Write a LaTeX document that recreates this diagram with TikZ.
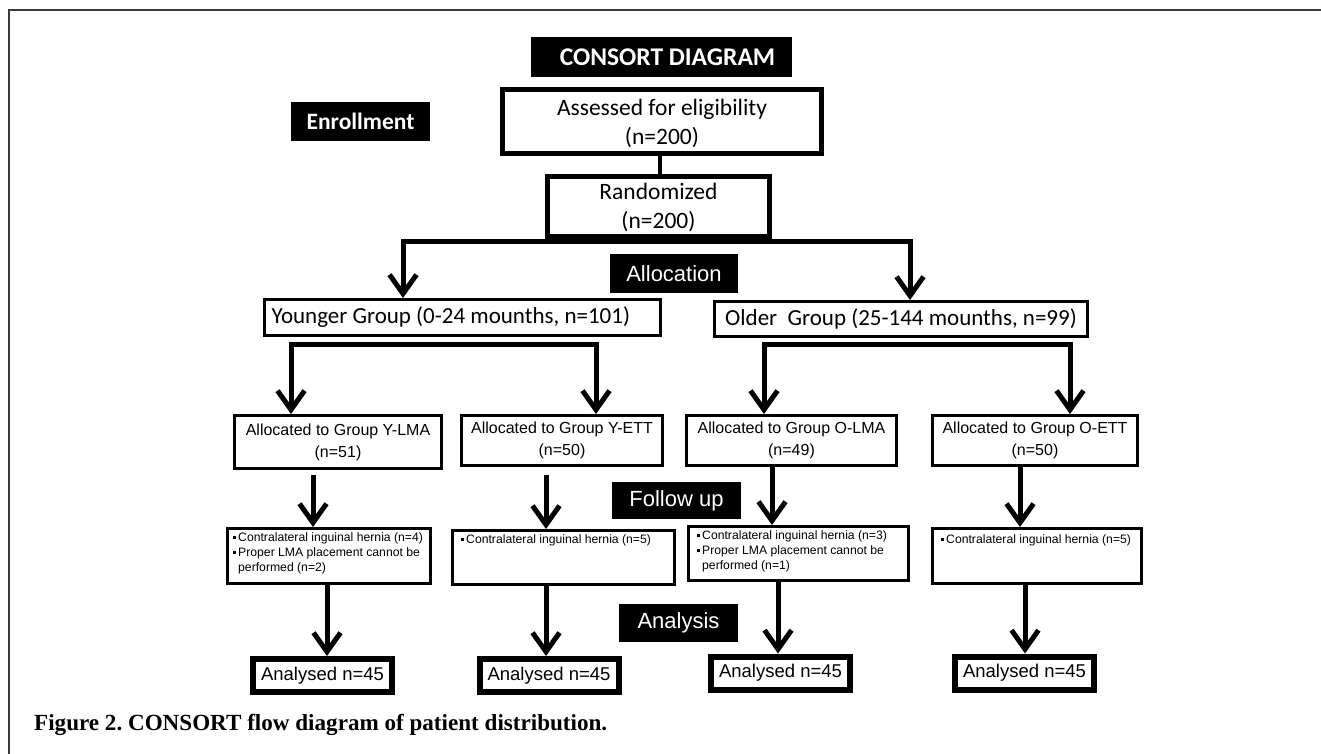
\documentclass[tikz,border=0pt]{standalone}
\usepackage{fontspec}
\setmainfont{Liberation Sans}
\newfontfamily\cali{Carlito}
\newfontfamily\arial{Liberation Sans}
\newfontfamily\capserif{Liberation Serif}
\usetikzlibrary{arrows.meta}
\definecolor{framegray}{HTML}{3A3A3A}
\newcommand{\fsz}[2]{\fontsize{#1}{#2}\selectfont}
\newcommand{\bul}{\makebox[5.5pt][l]{\rule[2.5pt]{3pt}{3pt}}}
\frenchspacing
\begin{document}
\begin{tikzpicture}[x=1pt,y=-1pt,
  blk/.style={fill=black,text=white,inner sep=0pt},
  bigbox/.style={draw,line width=5pt,fill=white,inner sep=0pt},
  bigtxt/.style={align=center,inner sep=0pt,font=\cali\fsz{23.5pt}{28.5pt}},
  gbox/.style={draw,line width=3pt,fill=white,inner sep=0pt,font=\cali\fsz{23pt}{28pt}},
  abox/.style={draw,line width=3pt,fill=white,align=center,inner sep=0pt,font=\arial\fsz{16pt}{22pt}},
  fbox/.style={draw,line width=3pt,fill=white,inner sep=0pt},
  ftxt/.style={anchor=north west,inner sep=0pt,align=left,font=\arial\fsz{12.2pt}{15pt}},
  fin/.style={draw,line width=6pt,fill=white,inner sep=0pt,minimum width=139pt,minimum height=33pt,font=\arial\fsz{18.5pt}{22pt}},
  lab/.style={blk,font=\arial\fsz{22pt}{26pt}},
  conn/.style={line width=4pt},
  tipv/.tip={Straight Barb[length=19pt,width=27pt,line join=miter]},
  arr/.style={line width=5pt,-tipv},
  arr2/.style={line width=5pt,tipv-tipv,line join=miter}
]
\useasboundingbox[fill=white] (0,0) rectangle (1321,754);
\draw[line width=1.3pt,framegray] (9,754) -- (9,10) -- (1321,10);

% header and stage labels
\node[blk,minimum width=261pt,minimum height=40pt,font=\cali\bfseries\fsz{25.5pt}{30pt}] (title) at (661.5,57) {\hspace*{12pt}CONSORT DIAGRAM};
\node[blk,minimum width=139pt,minimum height=39pt,font=\cali\bfseries\fsz{23.5pt}{26pt}] (enr) at (360.5,121.5) {Enrollment};
\node[lab,minimum width=128pt,minimum height=39pt] (alloc) at (674,273.5) {Allocation};
\node[lab,minimum width=129pt,minimum height=37pt] (fu) at (676.5,500.5) {Follow up};
\node[lab,minimum width=119pt,minimum height=38pt] (an) at (678.5,623) {Analysis};

% top boxes
\node[bigbox,minimum width=319pt,minimum height=64pt] (as) at (662,121.5) {};
\node[bigtxt] (ast) at (662,123.5) {Assessed for eligibility\\(n=200)};
\node[bigbox,minimum width=222pt,minimum height=60pt] (rd) at (658.5,206.5) {};
\node[bigtxt] (rdt) at (658.5,207.5) {Randomized\\(n=200)};

% groups
\node[gbox,minimum width=396pt,minimum height=36pt] (yg) at (462.5,317.5) {\makebox[382pt][l]{Younger Group (0-24 mounths, n=101)}};
\node[gbox,minimum width=373pt,minimum height=35pt] (og) at (901,319) {Older\ \ Group (25-144 mounths, n=99)};

% allocated
\node[abox,minimum width=207pt,minimum height=53pt] (yl) at (338,442) {Allocated to Group Y-LMA\\(n=51)};
\node[abox,minimum width=201pt,minimum height=50pt] (ye) at (562,440.5) {Allocated to Group Y-ETT\\(n=50)};
\node[abox,minimum width=210pt,minimum height=50pt] (ol) at (791.5,440.5) {Allocated to Group O-LMA\\(n=49)};
\node[abox,minimum width=205pt,minimum height=50pt] (oe) at (1035,440.5) {Allocated to Group O-ETT\\(n=50)};

% follow-up boxes
\node[fbox,minimum width=203pt,minimum height=55pt] (yf) at (329,556) {};
\node[fbox,minimum width=222pt,minimum height=54pt] (yef) at (563.5,557.5) {};
\node[fbox,minimum width=220pt,minimum height=54pt] (of) at (798.5,553.5) {};
\node[fbox,minimum width=209pt,minimum height=55pt] (oef) at (1037,556) {};
\node[ftxt] (yft) at ([shift={(6.5pt,-5.5pt)}]yf.north west) {\bul Contralateral inguinal hernia (n=4)\\\bul Proper LMA placement cannot be\\\hspace*{5.5pt}performed (n=2)};
\node[ftxt] (yeft) at ([shift={(9.5pt,-5.5pt)}]yef.north west) {\bul Contralateral inguinal hernia (n=5)};
\node[ftxt] (oft) at ([shift={(9.5pt,-5.5pt)}]of.north west) {\bul Contralateral inguinal hernia (n=3)\\\bul Proper LMA placement cannot be\\\hspace*{5.5pt}performed (n=1)};
\node[ftxt] (oeft) at ([shift={(9.5pt,-7.5pt)}]oef.north west) {\bul Contralateral inguinal hernia (n=5)};

% analysed
\node[fin] (ya) at (322.5,675.5) {Analysed n=45};
\node[fin] (yea) at (549,675.5) {Analysed n=45};
\node[fin] (oa) at (780.5,673) {Analysed n=45};
\node[fin] (oea) at (1024.5,673) {Analysed n=45};

% caption
\node[anchor=base west,inner sep=0pt,font=\capserif\bfseries\fsz{22pt}{26pt}] (cap) at (34,730) {\scalebox{1.05}[1.05]{Figure 2. CONSORT flow diagram of patient distribution.}};

% coordinates for connector columns and rows
\coordinate (xm) at (660,0);
\coordinate (xL) at (403,0);
\coordinate (xR) at (910,0);
\coordinate (rb) at (0,241);
\coordinate (ybr) at (0,344);
\coordinate (y1) at (291,0);
\coordinate (y2) at (596,0);
\coordinate (o1) at (764,0);
\coordinate (o2) at (1070,0);
\coordinate (c1) at (313,0);
\coordinate (c2) at (546,0);
\coordinate (c3) at (772,0);
\coordinate (c4) at (1020,0);
\coordinate (d1) at (327,0);
\coordinate (d2) at (546,0);
\coordinate (d3) at (778,0);
\coordinate (d4) at (1025,0);

% connectors
\draw[conn] (as.south -| xm) -- (rd.north -| xm);
\draw[arr2] (yg.north -| xL) -- (rb -| xL) -- (rb -| xR) -- (og.north -| xR);
\draw[arr2] (yl.north -| y1) -- (ybr -| y1) -- (ybr -| y2) -- (ye.north -| y2);
\draw[arr2] (ol.north -| o1) -- (ybr -| o1) -- (ybr -| o2) -- (oe.north -| o2);

\draw[arr,shorten <=5pt] (yl.south -| c1) -- (yf.north -| c1);
\draw[arr,shorten <=8pt] (ye.south -| c2) -- (yef.north -| c2);
\draw[arr] (ol.south -| c3) -- (of.north -| c3);
\draw[arr] (oe.south -| c4) -- (oef.north -| c4);

\draw[arr] (yf.south -| d1) -- (ya.north -| d1);
\draw[arr] (yef.south -| d2) -- (yea.north -| d2);
\draw[arr] (of.south -| d3) -- (oa.north -| d3);
\draw[arr] (oef.south -| d4) -- (oea.north -| d4);
\end{tikzpicture}
\end{document}
